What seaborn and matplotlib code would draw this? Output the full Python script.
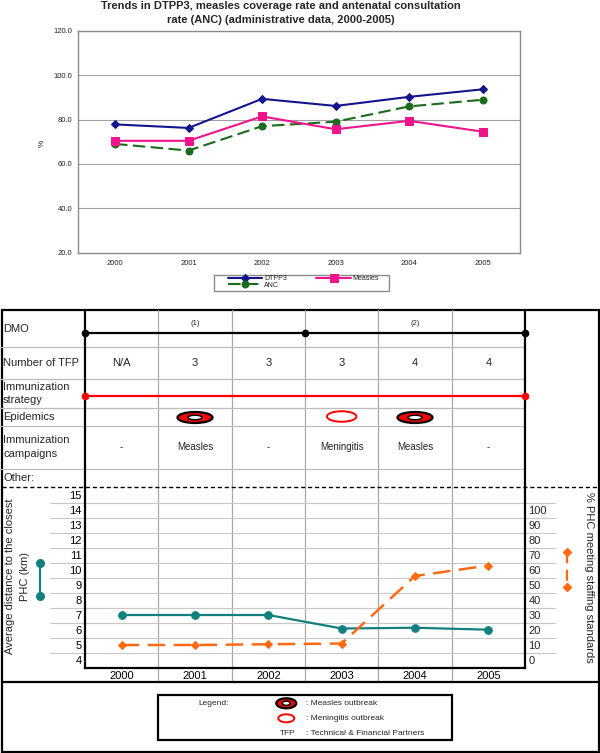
import numpy as np
import pandas as pd
import seaborn as sns
import matplotlib
matplotlib.use("Agg")
import matplotlib.pyplot as plt
from matplotlib.patches import Ellipse, Rectangle
from matplotlib.transforms import blended_transform_factory as blend

# ---------------- data ----------------
years = [2000, 2001, 2002, 2003, 2004, 2005]
dtpp3 = [77.8, 76.2, 89.3, 86.1, 90.2, 93.6]
measles = [70.4, 70.4, 81.4, 75.6, 79.4, 74.5]
anc = [69.0, 66.0, 77.0, 79.0, 85.9, 88.9]

distance_km = [7.0, 7.0, 7.0, 6.1, 6.15, 6.02]
phc_staffing_pct = [10, 10, 10.5, 11, 56, 63]

tfp_counts = ["N/A", "3", "3", "3", "4", "4"]
epidemics = [None, "Measles", None, "Meningitis", "Measles", None]
campaigns = ["-", "Measles", "-", "Meningitis", "Measles", "-"]
dmo_bounds = [1999.5, 2002.5, 2005.5]
dmo_labels = ["(1)", "(2)"]
strategy_span = [1999.5, 2005.5]

left_ticks = list(range(4, 16))
right_ticks = list(range(0, 101, 10))
top_ticks = list(range(20, 121, 20))

# ---------------- setup ----------------
sns.set_style("white")
plt.rcParams['font.family'] = ['Liberation Sans', 'DejaVu Sans']

W, H = 600, 753
fig = plt.figure(figsize=(6, 7.53), dpi=100)
fig.patch.set_facecolor("white")


def px_axes(x0, y0, x1, y1):
    return fig.add_axes([x0 / W, 1 - y1 / H, (x1 - x0) / W, (y1 - y0) / H])


ov = px_axes(0, 0, W, H)
ov.set_xlim(0, W)
ov.set_ylim(H, 0)
ov.set_autoscale_on(False)
ov.axis("off")

# ---------------- top chart ----------------
axt = px_axes(78.2, 30.7, 519.5, 252.7)
axt.set_facecolor("none")
NAVY, PINK, GREEN = "#14148c", "#f0148c", "#1a6b1a"
sns.lineplot(x=years, y=dtpp3, ax=axt, color=NAVY, marker="D", markersize=4.5,
             markeredgecolor=NAVY, linewidth=1.5, label="DTPP3")
sns.lineplot(x=years, y=anc, ax=axt, color=GREEN, marker="o", markersize=5,
             markeredgecolor=GREEN, linewidth=1.5, label="ANC")
axt.lines[-1].set_dashes((6, 2.6))
sns.lineplot(x=years, y=measles, ax=axt, color=PINK, marker="s", markersize=5.3,
             markeredgecolor=PINK, linewidth=1.5, label="Measles")
axt.set_xlim(1999.5, 2005.5)
axt.set_ylim(20, 120)
axt.set_yticks(top_ticks)
axt.set_yticklabels([f"{v:.1f}" for v in top_ticks])
axt.set_xticks(years)
axt.set_xticklabels([str(y) for y in years])
axt.set_xticks(np.arange(1999.5, 2006, 1), minor=True)
axt.tick_params(axis="both", which="major", length=0, labelsize=5.5, colors="#222")
axt.tick_params(axis="x", which="major", pad=5.5)
axt.tick_params(axis="y", which="major", pad=4)
axt.tick_params(axis="x", which="minor", length=3, color="#888", direction="out")
axt.yaxis.grid(True, color="#a0a0a0", lw=0.8)
axt.set_axisbelow(True)
for s in axt.spines.values():
    s.set_visible(True)
    s.set_color("#8c8c8c")
    s.set_linewidth(1)
axt.set_xlabel("")
axt.set_ylabel("")
h, l = axt.get_legend_handles_labels()
axt.legend(h, l, ncol=2, frameon=False, fontsize=5, loc="upper left",
           bbox_to_anchor=(227.7 / W, 1 - 275.3 / H), bbox_transform=fig.transFigure,
           borderpad=0, borderaxespad=0, handlelength=5.0, handletextpad=0.25,
           columnspacing=4.2, labelspacing=-0.1)
ov.add_patch(Rectangle((214.3, 275), 175, 15.5, fill=False, ec="#8c8c8c", lw=1))
ov.text(42, 143, "%", rotation=90, fontsize=6, ha="center", va="center")
ov.text(281, 5.5, "Trends in DTPP3, measles coverage rate and antenatal consultation",
        fontsize=8, weight="bold", ha="center", va="center")
ov.text(281, 19.5, "rate (ANC) (administrative data, 2000-2005)",
        fontsize=8, weight="bold", ha="center", va="center")

# ---------------- bottom chart ----------------
TEAL, ORANGE = "#138080", "#ff6a13"
axb = px_axes(85, 487.5, 525, 667.5)
axb.set_facecolor("none")
sns.lineplot(x=years, y=distance_km, ax=axb, color=TEAL, marker="o", markersize=5.5,
             markeredgecolor=TEAL, linewidth=1.6)
axb.set_xlim(1999.5, 2005.5)
axb.set_ylim(3.5, 15.5)
axb.set_yticks(left_ticks)
axb.set_xticks(years)
axb.set_xticklabels([str(y) for y in years])
axb.tick_params(axis="both", length=0, labelsize=8, pad=2.5, colors="black")
axb.set_xlabel("")
axb.set_ylabel("")

axb2 = axb.twinx()
sns.lineplot(x=years, y=phc_staffing_pct, ax=axb2, color=ORANGE, marker="D", markersize=4,
             markeredgecolor=ORANGE, linewidth=1.8)
axb2.lines[-1].set_dashes((7, 3.4))
axb2.set_ylim(-5, 115)
axb2.set_yticks(right_ticks)
axb2.tick_params(axis="y", length=0, labelsize=8, pad=2.5)
axb2.set_xlabel("")
axb2.set_ylabel("")

for s in ["top", "right"]:
    axb.spines[s].set_visible(False)
for s in ["left", "bottom"]:
    axb.spines[s].set_color("black")
    axb.spines[s].set_linewidth(1.6)
    axb.spines[s].set_visible(True)
for s in ["top", "left", "bottom"]:
    axb2.spines[s].set_visible(False)
axb2.spines["right"].set_visible(True)
axb2.spines["right"].set_color("black")
axb2.spines["right"].set_linewidth(1.6)

# gridlines between integer ticks, extending beyond axes
tr_grid = blend(ov.transData, axb.transData)
for v in np.arange(4.5, 15.0, 1.0):
    axb.plot([50, 555], [v, v], transform=tr_grid, color="#c8c8c8", lw=0.8,
             clip_on=False, zorder=0)

# ---------------- table ----------------
bt = blend(axb.transData, ov.transData)
# column separators
for b in np.arange(2000.5, 2005, 1.0):
    ov.plot([b, b], [310, 682.3], transform=bt, color="#a8a8a8", lw=0.9)
# row separators
for yy in [347.3, 378.7, 408.3, 425.7, 469.3]:
    ov.plot([0, 525], [yy, yy], color="#bdbdbd", lw=0.9)
# thick verticals at table edges
for b in [1999.5, 2005.5]:
    ov.plot([b, b], [310, 488], transform=bt, color="black", lw=1.6)
# outer frame
ov.add_patch(Rectangle((1.5, 310), 597, 441.5, fill=False, ec="black", lw=1.6))
ov.plot([1.5, 598.5], [682.3, 682.3], color="black", lw=1.6)
ov.plot([1.5, 598.5], [487.3, 487.3], color="black", lw=1.0, ls=(0, (3, 2)))

# row labels
row_labels = [("DMO", 329), ("Number of TFP", 363.3), ("Immunization", 386.7),
              ("strategy", 400), ("Epidemics", 416.7), ("Immunization", 440),
              ("campaigns", 454), ("Other:", 478.3)]
for txt, yy in row_labels:
    ov.text(3, yy, txt, fontsize=8, ha="left", va="center")

# DMO periods
ov.plot(dmo_bounds, [333.3] * len(dmo_bounds), transform=bt, color="black", lw=1.6,
        marker="o", markersize=4.5)
for i, lab in enumerate(dmo_labels):
    mid = (dmo_bounds[i] + dmo_bounds[i + 1]) / 2
    ov.text(mid, 323, lab, transform=bt, fontsize=5.5, ha="center", va="center")

# TFP counts
for yr, t in zip(years, tfp_counts):
    ov.text(yr, 363.3, t, transform=bt, fontsize=8, ha="center", va="center")

# Immunization strategy
ov.plot(strategy_span, [395.7, 395.7], transform=bt, color="red", lw=1.6,
        marker="o", markersize=4.5)

COLW = 73.33


def outbreak(kind, x, y, w, h, transform, xscale):
    if kind == "Measles":
        ov.add_patch(Ellipse((x, y), w / xscale, h, transform=transform,
                             fc="red", ec="black", lw=1.6, clip_on=False))
        ov.add_patch(Ellipse((x, y), 0.4 * w / xscale, 0.42 * h, transform=transform,
                             fc="white", ec="black", lw=1.1, clip_on=False))
    elif kind == "Meningitis":
        ov.add_patch(Ellipse((x, y), w / xscale, h, transform=transform,
                             fc="white", ec="red", lw=1.4, clip_on=False))


for yr, ep in zip(years, epidemics):
    if ep == "Measles":
        outbreak(ep, yr, 417.5, 35, 11, bt, COLW)
    elif ep == "Meningitis":
        outbreak(ep, yr, 416.5, 29.5, 10.5, bt, COLW)

for yr, c in zip(years, campaigns):
    ov.text(yr, 447.3, c, transform=bt, fontsize=7, ha="center", va="center")

# ---------------- axis titles and glyphs ----------------
ov.text(10, 576.7, "Average distance to the closest", rotation=90, fontsize=8,
        ha="center", va="center")
ov.text(25, 576.7, "PHC (km)", rotation=90, fontsize=8, ha="center", va="center")
ov.plot([40, 40], [562.7, 596], color=TEAL, lw=1.6, marker="o", markersize=5.5)
ov.text(589, 577.5, "% PHC meeting staffing standards", rotation=-90, fontsize=8,
        ha="center", va="center")
ov.plot([566.7, 566.7], [551.7, 586.7], color=ORANGE, lw=1.6, ls=(0, (5, 3)),
        marker="D", markersize=4)

# ---------------- legend box ----------------
ov.add_patch(Rectangle((158, 695), 293.6, 45, fill=False, ec="black", lw=1.6))
ov.text(213.5, 703.3, "Legend:", fontsize=6, ha="center", va="center")
outbreak("Measles", 286.3, 703.3, 20, 10, ov.transData, 1)
outbreak("Meningitis", 286.3, 718.3, 16, 8, ov.transData, 1)
ov.text(287.8, 733.3, "TFP", fontsize=6, ha="center", va="center")
ov.text(306, 703.3, ": Measles outbreak", fontsize=6, ha="left", va="center")
ov.text(306, 718.3, ": Meningitis outbreak", fontsize=6, ha="left", va="center")
ov.text(306, 733.3, ": Technical & Financial Partners", fontsize=6, ha="left", va="center")

fig.savefig("out.png", dpi=100, facecolor="white")
